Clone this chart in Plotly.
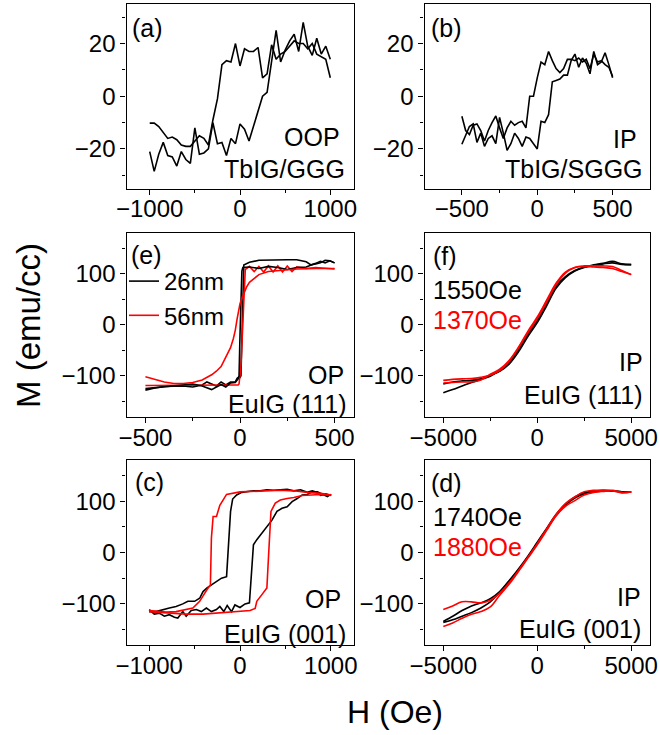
import plotly.graph_objects as go

W, HGT = 660, 735
BLACK = "#000000"
RED = "#ff0000"
FONT = "Liberation Sans, Arial, sans-serif"

# ---------------- (a) TbIG/GGG, OOP ----------------
H_a = [-1000, -950, -900, -850, -800, -750, -700, -650, -600, -550, -500, -450, -400, -350, -300,
       -250, -200, -150, -100, -50, 0, 50, 100, 150, 200, 250, 300, 350, 400, 450, 500, 550, 600,
       650, 700, 750, 800, 850, 900, 950, 1000]
M_a_left = [-10.2, -10.2, -11.5, -14, -16, -15.5, -16.5, -18.5, -19, -19, -17, -15, -16, -18.5, -9,
            -1, 12, 13.5, 13, 20, 11.5, 18, 17, 17, 18.5, 7, 8.5, 19.5, 14, 16, 17, 19, 21, 20, 20,
            18, 20, 16, 15, 14, 7]
M_a_right = [-21, -28.5, -22, -17.5, -22.5, -23, -26.5, -21, -24, -25.5, -12, -22, -21.5, -20, -10,
             -18, -17.5, -22.5, -16, -18, -10.5, -12.5, -17, -11, -5, 0, 1.5, 14, 25, 13, 17.5, 21,
             23.5, 17, 28, 19, 15.5, 22, 16, 19, 14]

# ---------------- (b) TbIG/SGGG, IP ----------------
H_b = [-500, -475, -450, -425, -400, -375, -350, -325, -300, -275, -250, -225, -200, -175, -150,
       -125, -100, -75, -50, -25, 0, 25, 50, 75, 100, 125, 150, 175, 200, 225, 250, 275, 300, 325,
       350, 375, 400, 425, 450, 475, 500]
M_b_left = [-7.6, -13, -14.5, -11, -10.5, -13, -17, -13, -10, -7.5, -12, -16, -12, -9.5, -11, -10,
            -9.5, -12, 0, 0, 7, 13, 12, 17, 13.5, 10.5, 9, 10.5, 14, 14, 13.5, 14.5, 13, 14, 10.5,
            16, 13, 13.5, 12, 11, 7.5]
M_b_right = [-18.2, -14.5, -11.5, -10.5, -17.5, -14, -19, -16, -15, -18, -8, -14, -20.5, -18, -14,
             -16, -19, -15.5, -16, -18, -20, -9.5, -10, -7, 5.5, 6, 6.5, 8, 8, 13.5, 16, 11, 14.5,
             12.5, 8.5, 17, 12, 13, 16.5, 12, 7]

# ---------------- (e) EuIG (111), OP ----------------
H_e_blk_dn = [500, 475, 450, 425, 400, 375, 350, 300, 250, 200, 150, 100, 50, 25, 20, 15, 10, 5, 0,
              -5, -15, -25, -50, -75, -100, -125, -150, -175, -200, -250, -300, -350, -400, -450, -500]
M_e_blk_dn = [121, 125, 126, 121, 119, 117, 123, 127, 127, 127, 127, 126, 122, 119, 117, 40, -60,
              -100, -103, -102, -105, -112, -112, -118, -112, -120, -116, -112, -118, -122, -120,
              -121, -121, -124, -128]
H_e_blk_up = [-500, -450, -400, -350, -300, -250, -200, -150, -100, -75, -50, -25, -10, -5, 0, 5,
              10, 15, 25, 50, 100, 150, 200, 250, 300, 350, 400, 425, 450, 475, 500]
M_e_blk_up = [-125, -123, -122, -120, -118, -116, -120, -127, -117, -122, -114, -113, -106, -100,
              -20, 60, 105, 112, 112, 113, 110, 114, 112, 108, 112, 113, 120, 124, 121, 125, 121]
H_e_red_dn = [500, 450, 400, 350, 300, 275, 250, 225, 200, 175, 150, 125, 100, 75, 50, 35, 28, 22,
              15, 5, -5, -10, -50, -100, -150, -200, -250, -300, -350, -400, -450, -500]
M_e_red_dn = [109, 110, 112, 110, 113, 104, 115, 103, 115, 103, 115, 103, 114, 104, 114, 110, 108,
              60, 0, -80, -116, -118, -118, -118, -118, -118, -118, -118, -118, -119, -119, -119]
H_e_red_up = [-500, -450, -400, -350, -300, -250, -200, -150, -125, -100, -75, -50, -35, -25, -15,
              -5, 0, 10, 20, 35, 50, 75, 100, 150, 200, 250, 300, 400, 500]
M_e_red_up = [-102, -107, -112, -115, -115, -113, -108, -98, -91, -82, -65, -45, -27, -11, 12, 32,
              41, 52, 61, 74, 83, 91, 98, 104, 106, 108, 109, 110, 110]

# ---------------- (c) EuIG (001), OP ----------------
H_c_blk_dn = [1000, 944, 889, 852, 796, 741, 667, 593, 519, 444, 370, 296, 222, 148, 74, 19, -37,
              -81, -104, -119, -130, -148, -204, -259, -315, -363, -407, -444, -500, -574, -630,
              -704, -778, -852, -926, -1000]
M_c_blk_dn = [111, 114, 111, 117, 120, 117, 122, 120, 123, 122, 121, 122, 120, 120, 118, 117, 112,
              104, 80, 34, -17, -47, -50, -56, -63, -69, -76, -89, -95, -95, -100, -105, -108, -111,
              -115, -115]
H_c_blk_up = [-1000, -944, -889, -833, -778, -722, -685, -630, -593, -537, -481, -426, -370, -315,
              -259, -222, -178, -141, -93, -56, 0, 56, 104, 130, 148, 185, 241, 296, 352, 407, 463,
              519, 574, 630, 685, 741, 796, 852, 907, 963, 1000]
M_c_blk_up = [-111, -120, -118, -124, -121, -126, -127.5, -115, -124, -113, -111, -115, -108, -115,
              -111, -105, -115, -103, -115, -102, -107, -100, -98, -37, 15, 25, 38, 50, 63, 80, 86,
              89, 99, 105, 112, 113, 118, 118, 113, 109, 113]
H_c_red_dn = [1007, 889, 741, 593, 444, 296, 148, 0, -148, -222, -259, -296, -315, -326, -363,
              -407, -444, -519, -593, -704, -815, -926, -1000]
M_c_red_dn = [112, 115, 117, 120, 121, 120, 120, 118, 113, 92, 70, 70, 28, -63, -72, -85, -95, -108,
              -111, -115, -116, -115, -113]
H_c_red_up = [-1000, -889, -778, -593, -407, -222, -37, 111, 167, 185, 241, 296, 315, 341, 389,
              444, 519, 593, 685, 778, 889, 1007]
M_c_red_up = [-115, -116, -118, -120, -120, -118, -116, -113, -109, -95, -82, -69, -5, 80, 96, 102,
              105, 107, 111, 112, 113, 112]

# ---------------- (f) EuIG (111), IP and (d) EuIG (001), IP ----------------
H_ip = [-5000, -4500, -4000, -3500, -3000, -2500, -2000, -1500, -1000, -500, 0, 500, 1000, 1500,
        2000, 2500, 3000, 3500, 4000, 4500, 5000]
M_f_blk1 = [-133, -127, -120, -113, -107, -101, -89, -74, -49, -19, 8, 41, 75, 94, 106, 113, 117,
            120, 124, 119, 117.5]
M_f_blk2 = [-116, -112, -110, -109, -106, -99, -91, -77, -53, -23, 4, 37, 71, 92, 105, 112, 116,
            119, 121, 118, 117.5]
M_f_red1 = [-109, -107, -106, -105.5, -103, -99, -90, -72, -46, -16, 12, 44, 78, 101, 112, 115, 115,
            115, 114, 106, 98]
M_f_red2 = [-114, -113, -112, -112, -108, -97, -87, -70, -44, -13, 15, 48, 81, 103, 112, 114, 113,
            112, 110, 104, 98]
M_d_blk1 = [-136, -131, -124, -117, -108, -96, -78, -56, -34, -9, 18, 45, 72, 92, 106, 114, 118,
            120, 120, 118, 118]
M_d_blk2 = [-134, -124, -113, -104, -98, -90, -76, -55, -32, -7, 20, 47, 74, 94, 108, 116, 119, 121,
            120, 118, 118]
M_d_red1 = [-144, -137, -128, -120, -115, -106, -83, -62, -37, -11, 15, 43, 71, 90, 101, 112, 117,
            119, 120, 116, 118]
M_d_red2 = [-111, -104, -96, -96, -98, -93, -79, -59, -35, -9, 17, 46, 74, 95, 108, 118, 121, 121,
            121, 117, 118]

LEGEND_NAMES = ["26nm", "56nm"]

fig = go.Figure()


def line(ax, xs, ys, color, name=None, show=False, shape="linear"):
    fig.add_trace(go.Scatter(
        x=xs, y=ys, mode="lines", xaxis="x" + ax, yaxis="y" + ax,
        line=dict(color=color, width=1.6, shape=shape),
        name=name if name else "", showlegend=show, hoverinfo="skip"))


# (a)
line("", H_a, M_a_left, BLACK)
line("", H_a, M_a_right, BLACK)
# (b)
line("2", H_b, M_b_left, BLACK)
line("2", H_b, M_b_right, BLACK)
# (e)
line("3", H_e_blk_dn, M_e_blk_dn, BLACK, LEGEND_NAMES[0], True)
line("3", H_e_red_dn, M_e_red_dn, RED, LEGEND_NAMES[1], True)
line("3", H_e_blk_up, M_e_blk_up, BLACK)
line("3", H_e_red_up, M_e_red_up, RED)
# (f)
line("4", H_ip, M_f_blk1, BLACK, shape="spline")
line("4", H_ip, M_f_blk2, BLACK, shape="spline")
line("4", H_ip, M_f_red1, RED, shape="spline")
line("4", H_ip, M_f_red2, RED, shape="spline")
# (c)
line("5", H_c_blk_dn, M_c_blk_dn, BLACK)
line("5", H_c_blk_up, M_c_blk_up, BLACK)
line("5", H_c_red_dn, M_c_red_dn, RED)
line("5", H_c_red_up, M_c_red_up, RED)
# (d)
line("6", H_ip, M_d_blk1, BLACK, shape="spline")
line("6", H_ip, M_d_blk2, BLACK, shape="spline")
line("6", H_ip, M_d_red1, RED, shape="spline")
line("6", H_ip, M_d_red2, RED, shape="spline")


def px_x(p):
    return p / W


def px_y(p):
    return 1 - p / HGT


cols = [(126.5, 353.5), (424.5, 650.0)]
rows = [(4.0, 188.5), (232.7, 416.7), (460.0, 645.0)]

panels = [
    # suffix, col, row, xrange, xdtick, xminor, yrange, ydtick, yminor
    ("", 0, 0, [-1257, 1257], 1000, 500, [-35, 35], 20, 10),
    ("2", 1, 0, [-748, 748], 500, 250, [-35, 35], 20, 10),
    ("3", 0, 1, [-600, 600], 500, 250, [-180, 180], 100, 50),
    ("4", 1, 1, [-6000, 6000], 5000, 2500, [-180, 180], 100, 50),
    ("5", 0, 2, [-1250, 1250], 1000, 500, [-180, 180], 100, 50),
    ("6", 1, 2, [-6000, 6000], 5000, 2500, [-180, 180], 100, 50),
]

layout = {}
tickfont = dict(family=FONT, size=24, color=BLACK)
for suf, c, r, xr, xd, xm, yr, yd, ym in panels:
    x0, x1 = cols[c]
    y0, y1 = rows[r]
    common = dict(showline=True, linecolor=BLACK, linewidth=1.3, mirror=True,
                  ticks="outside", ticklen=5, tickwidth=1.2, tickcolor=BLACK,
                  showgrid=False, zeroline=False, tickfont=tickfont, fixedrange=True,
                  automargin=False, ticklabeloverflow="allow")
    layout["xaxis" + suf] = dict(domain=[px_x(x0), px_x(x1)], range=xr, dtick=xd, tick0=0,
                                 anchor="y" + suf, ticklabelstandoff=-6,
                                 minor=dict(dtick=xm, tick0=0, ticks="outside", ticklen=3,
                                            tickwidth=1, tickcolor=BLACK, showgrid=False),
                                 **common)
    layout["yaxis" + suf] = dict(domain=[px_y(y1), px_y(y0)], range=yr, dtick=yd, tick0=0,
                                 anchor="x" + suf,
                                 minor=dict(dtick=ym, tick0=0, ticks="outside", ticklen=3,
                                            tickwidth=1, tickcolor=BLACK, showgrid=False),
                                 **common)

ann = []


def text(t, x, y, anchor="left", color=BLACK, size=25, angle=0):
    ann.append(dict(text=t, x=px_x(x), y=px_y(y), xref="paper", yref="paper",
                    xanchor=anchor, yanchor="middle", showarrow=False, textangle=angle,
                    font=dict(family=FONT, size=size, color=color)))


# (a)
text("(a)", 130, 28)
text("OOP", 342, 137, "right")
text("TbIG/GGG", 347, 169, "right")
# (b)
text("(b)", 429, 28)
text("IP", 639, 139, "right")
text("TbIG/SGGG", 645, 169, "right")
# (e)
text("(e)", 129, 255)
text("OP", 346, 375, "right")
text("EuIG (111)", 349, 404, "right")
# (f)
text("(f)", 431, 256)
text("1550Oe", 431, 290)
text("1370Oe", 431, 320, color=RED)
text("IP", 645, 362, "right")
text("EuIG (111)", 645, 395, "right")
# (c)
text("(c)", 133, 482)
text("OP", 343, 599, "right")
text("EuIG (001)", 348, 634, "right")
# (d)
text("(d)", 429, 483)
text("1740Oe", 431, 517)
text("1880Oe", 431, 547, color=RED)
text("IP", 643, 597, "right")
text("EuIG (001)", 643, 629, "right")
# axis titles
text("M (emu/cc)", 28, 326, "center", size=33, angle=-90)
text("H (Oe)", 395, 712, "center", size=32)

fig.update_layout(
    width=W, height=HGT,
    margin=dict(l=0, r=0, t=0, b=0, autoexpand=False),
    paper_bgcolor="white", plot_bgcolor="white",
    font=dict(family=FONT, color=BLACK),
    annotations=ann,
    showlegend=True,
    legend=dict(x=px_x(124), y=px_y(259), xanchor="left", yanchor="top",
                bgcolor="rgba(0,0,0,0)", borderwidth=0, itemwidth=30,
                font=dict(family=FONT, size=24, color=BLACK), tracegroupgap=0,
                itemclick=False, itemdoubleclick=False),
    **layout,
)

fig.write_html(
    "out.html",
    config={"displayModeBar": False},
    post_script="document.body.style.margin='0';document.body.style.overflow='hidden';",
)
